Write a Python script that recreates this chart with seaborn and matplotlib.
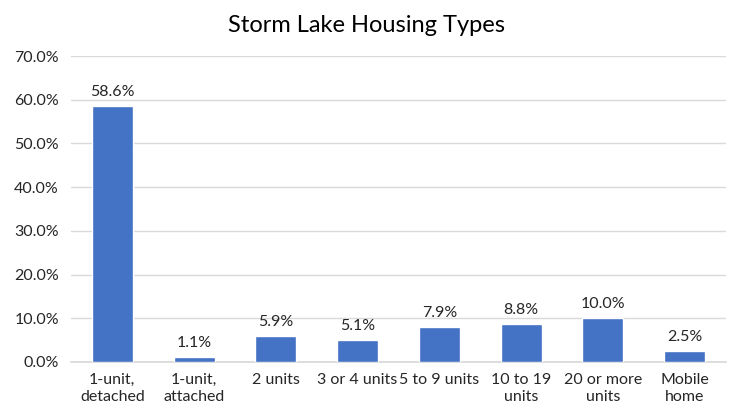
import matplotlib
matplotlib.use('Agg')
import matplotlib.pyplot as plt
import pandas as pd
import seaborn as sns
from matplotlib.ticker import PercentFormatter

# Data
categories = ['1-unit,\ndetached', '1-unit,\nattached', '2 units', '3 or 4 units',
              '5 to 9 units', '10 to 19\nunits', '20 or more\nunits', 'Mobile\nhome']
shares = [58.6, 1.1, 5.9, 5.1, 7.9, 8.8, 10.0, 2.5]

df = pd.DataFrame({'type': categories, 'share': shares})

sns.set_theme(style='white')
plt.rcParams['font.family'] = ['Lato', 'DejaVu Sans']

fig = plt.figure(figsize=(7.33, 4.12), dpi=100)
ax = fig.add_axes([0.0975, 0.1214, 0.8923, 0.7426])

sns.barplot(data=df, x='type', y='share', color='#4472C4', width=0.5,
            saturation=1, ax=ax, zorder=3)

for i, v in enumerate(shares):
    ax.text(i, v + 1.6, f'{v:.1f}%', ha='center', va='bottom', fontsize=11.5, color='#262626')

ax.set_ylim(0, 70)
ax.set_yticks(range(0, 71, 10))
ax.yaxis.set_major_formatter(PercentFormatter(decimals=1))
ax.grid(axis='y', color='#D9D9D9', linewidth=1, zorder=0)
ax.set_xlabel('')
ax.set_ylabel('')
for s in ['top', 'right', 'left']:
    ax.spines[s].set_visible(False)
ax.spines['bottom'].set_color('#D9D9D9')
ax.tick_params(axis='both', length=0, labelsize=11.5, colors='#262626')
ax.tick_params(axis='y', pad=9)
ax.tick_params(axis='x', pad=8)
for lbl in ax.get_xticklabels():
    lbl.set_linespacing(1.3)

fig.suptitle('Storm Lake Housing Types', fontsize=17, y=0.963, color='#000000')

fig.savefig('out.png', dpi=100)
